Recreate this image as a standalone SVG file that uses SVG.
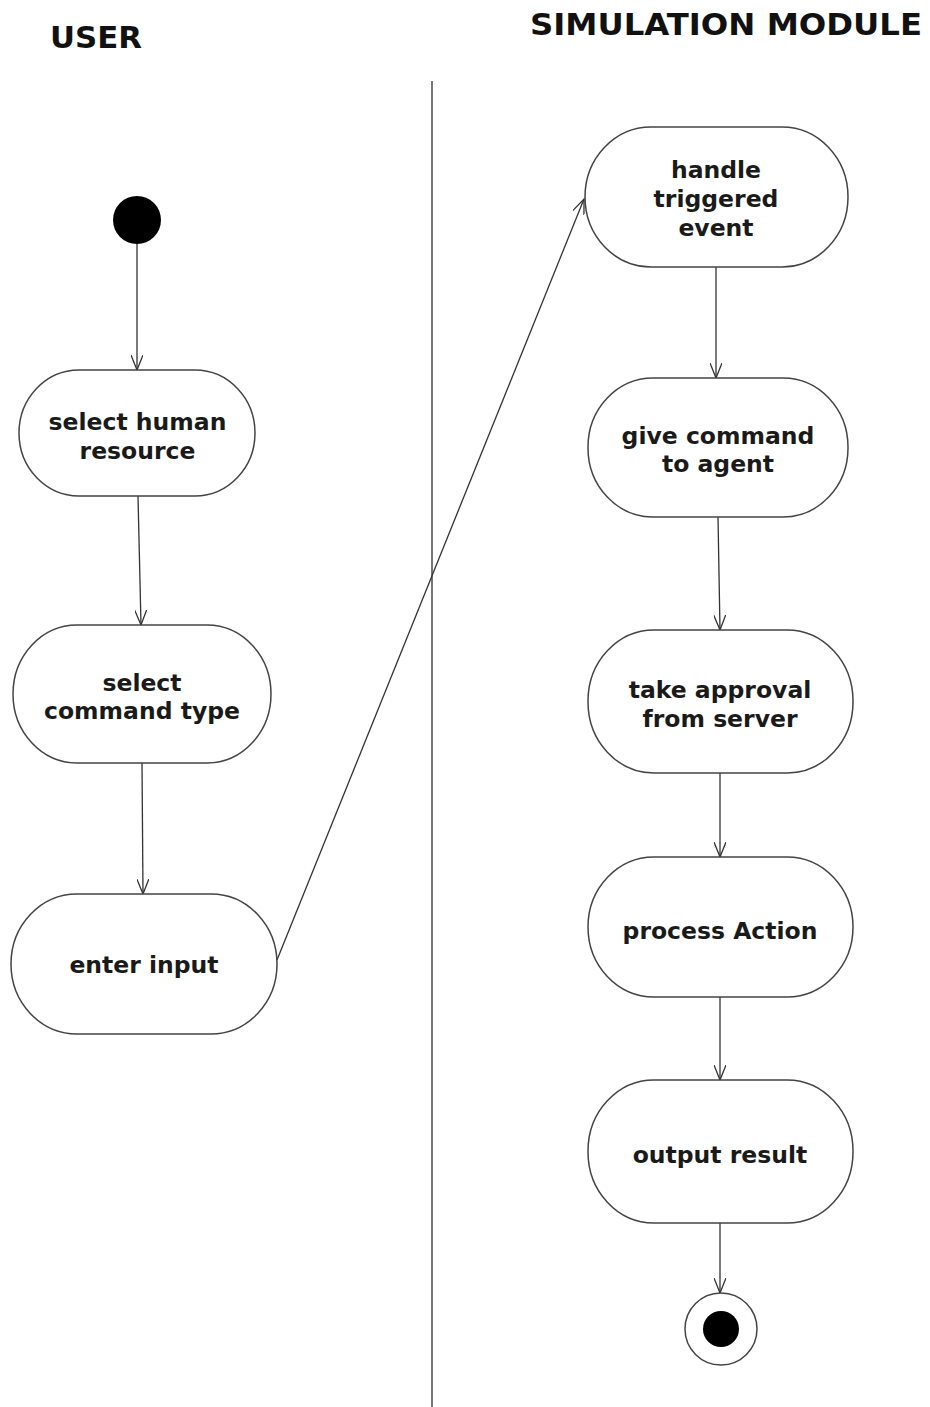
<svg xmlns="http://www.w3.org/2000/svg" width="930" height="1407" viewBox="0 0 930 1407">
  <defs>
    <style>
      .lane { font-family: "DejaVu Sans", Verdana, sans-serif; font-weight: bold; font-size: 30px; fill: #111; }
      .lbl { font-family: "DejaVu Sans", Verdana, sans-serif; font-weight: bold; font-size: 23.5px; fill: #1a1a1a; text-anchor: middle; }
      .act { fill: #fff; stroke: #444; stroke-width: 1.5; }
      .flow { fill: none; stroke: #333; stroke-width: 1.3; marker-end: url(#open); }
      .divider { stroke: #777; stroke-width: 2; }
    </style>
    <marker id="open" viewBox="0 0 16 12" refX="15" refY="6" markerWidth="16" markerHeight="12" markerUnits="userSpaceOnUse" orient="auto">
      <path d="M0,0 L15,6 L0,12" fill="none" stroke="#333" stroke-width="1.3"/>
    </marker>
  </defs>
  <rect width="930" height="1407" fill="#fff"/>

  <!-- swimlane headers and separator -->
  <text class="lane" x="50" y="48" textLength="92" lengthAdjust="spacingAndGlyphs">USER</text>
  <text class="lane" x="530" y="35" textLength="392" lengthAdjust="spacingAndGlyphs">SIMULATION MODULE</text>
  <line class="divider" x1="432" y1="81" x2="432" y2="1407"/>

  <!-- connectors -->
  <g id="connectors">
    <line class="flow" x1="137" y1="244" x2="137" y2="370"/>
    <line class="flow" x1="138" y1="496" x2="141" y2="625"/>
    <line class="flow" x1="142" y1="763" x2="143" y2="894"/>
    <line class="flow" x1="277" y1="960" x2="584" y2="199"/>
    <line class="flow" x1="716" y1="267" x2="716" y2="378"/>
    <line class="flow" x1="718" y1="517" x2="720" y2="630"/>
    <line class="flow" x1="720" y1="773" x2="720" y2="857"/>
    <line class="flow" x1="720" y1="997" x2="720" y2="1080"/>
    <line class="flow" x1="720" y1="1223" x2="720" y2="1293"/>
  </g>

  <!-- initial node -->
  <g id="start">
    <circle cx="137" cy="220" r="24" fill="#000"/>
  </g>

  <!-- user lane activities -->
  <g id="select-human-resource">
    <rect class="act" x="19" y="370" width="236" height="126" rx="60" ry="63"/>
    <text class="lbl" x="137.5" y="430">select human</text>
    <text class="lbl" x="137.5" y="459">resource</text>
  </g>
  <g id="select-command-type">
    <rect class="act" x="13" y="625" width="258" height="138" rx="64" ry="69"/>
    <text class="lbl" x="142" y="691">select</text>
    <text class="lbl" x="142" y="719">command type</text>
  </g>
  <g id="enter-input">
    <rect class="act" x="11" y="894" width="266" height="140" rx="66" ry="70"/>
    <text class="lbl" x="144" y="973">enter input</text>
  </g>

  <!-- simulation module lane activities -->
  <g id="handle-triggered-event">
    <rect class="act" x="585" y="127" width="263" height="140" rx="66" ry="70"/>
    <text class="lbl" x="716" y="178">handle</text>
    <text class="lbl" x="716" y="207">triggered</text>
    <text class="lbl" x="716" y="236">event</text>
  </g>
  <g id="give-command">
    <rect class="act" x="588" y="378" width="260" height="139" rx="65" ry="69"/>
    <text class="lbl" x="718" y="444">give command</text>
    <text class="lbl" x="718" y="472">to agent</text>
  </g>
  <g id="take-approval">
    <rect class="act" x="588" y="630" width="265" height="143" rx="66" ry="71"/>
    <text class="lbl" x="720" y="698">take approval</text>
    <text class="lbl" x="720" y="727">from server</text>
  </g>
  <g id="process-action">
    <rect class="act" x="588" y="857" width="265" height="140" rx="66" ry="70"/>
    <text class="lbl" x="720" y="939">process Action</text>
  </g>
  <g id="output-result">
    <rect class="act" x="588" y="1080" width="265" height="143" rx="66" ry="71"/>
    <text class="lbl" x="720" y="1163">output result</text>
  </g>

  <!-- final node -->
  <g id="end">
    <circle cx="721" cy="1329" r="36" fill="#fff" stroke="#444" stroke-width="1.5"/>
    <circle cx="721" cy="1329" r="18" fill="#000"/>
  </g>
</svg>
